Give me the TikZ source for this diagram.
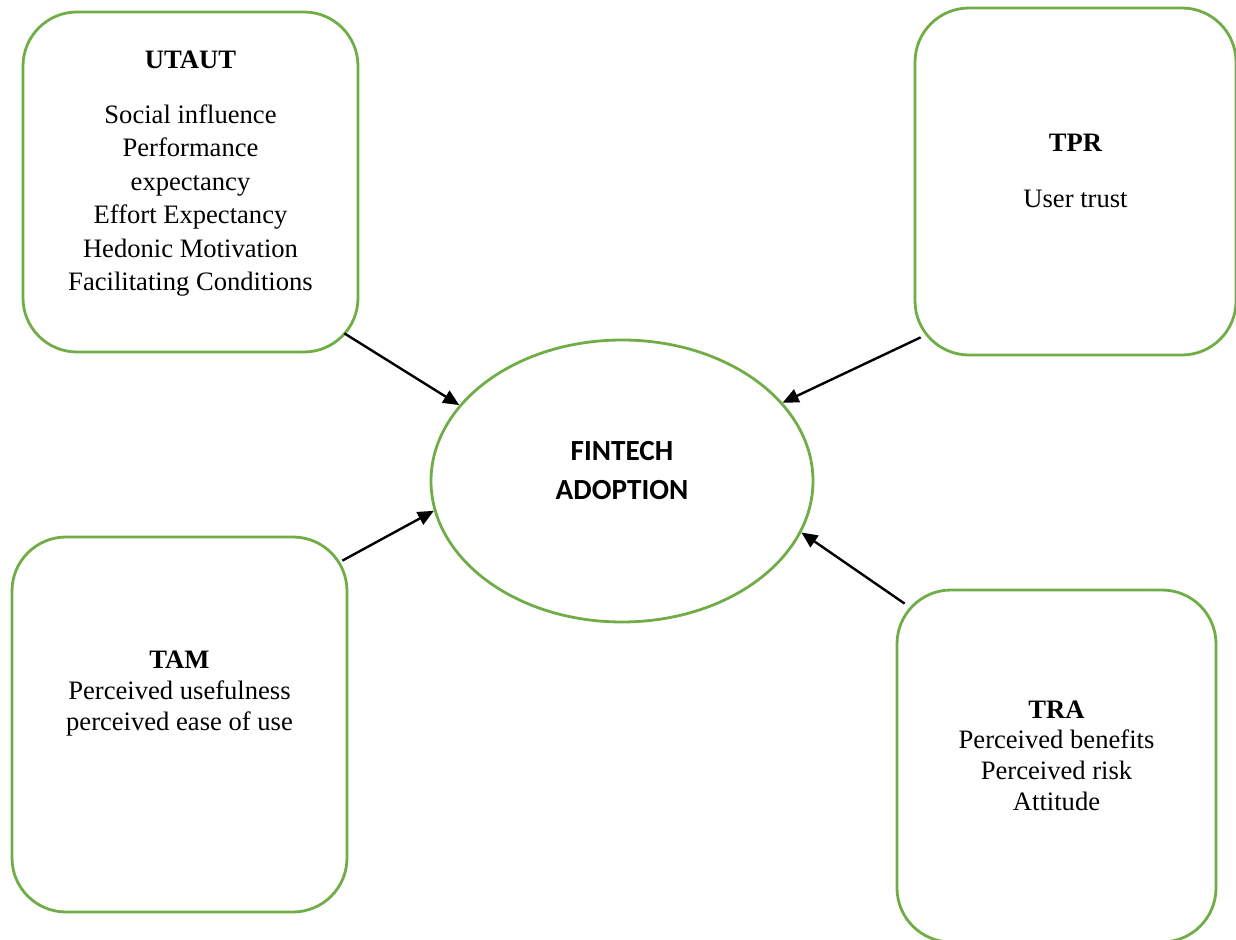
\documentclass[tikz,border=0pt]{standalone}
\usepackage{fontspec}
\setmainfont{Liberation Serif}
\newfontfamily\calfont{Carlito}
\usetikzlibrary{positioning,arrows.meta,shapes.geometric}

\definecolor{boxgreen}{RGB}{112,173,71}

\tikzset{
  theorybox/.style={draw=boxgreen, line width=1.4pt, rounded corners=27pt, inner sep=0pt},
  theorytext/.style={align=center, font=\fontsize{13.3}{16.2}\selectfont},
  link/.style={-{Triangle[length=8pt,width=7pt]}, line width=1.2pt}
}

\begin{document}
\begin{tikzpicture}[x=0.5pt, y=-0.5pt]
    \useasboundingbox (0,0) rectangle (1236,940);

    % the four theory boxes
    \node[theorybox, minimum width=167.5pt, minimum height=170pt]   (utaut) at (190.5,182) {};
    \node[theorybox, minimum width=160.5pt, minimum height=173.5pt] (tpr)   at (1075.5,181.5) {};
    \node[theorybox, minimum width=167.5pt, minimum height=187.5pt] (tam)   at (179.5,724.5) {};
    \node[theorybox, minimum width=159.5pt, minimum height=176pt]   (tra)   at (1056.5,766) {};

    \node[theorytext, font=\fontsize{13.3}{16.75}\selectfont] (utauttxt) at ([yshift=4.1pt]utaut.center)
      {\textbf{UTAUT}\\[10.5pt] Social influence\\ Performance\\ expectancy\\ Effort Expectancy\\ Hedonic Motivation\\ Facilitating Conditions};
    \node[theorytext] (tprtxt) at ([yshift=5.25pt]tpr.center)
      {\textbf{TPR}\\[11.5pt] User trust};
    \node[theorytext, font=\fontsize{13.3}{15.5}\selectfont] (tamtxt) at ([yshift=15.25pt]tam.center)
      {\textbf{TAM}\\ Perceived usefulness\\ perceived ease of use};
    \node[theorytext, font=\fontsize{13.3}{15.3}\selectfont] (tratxt) at ([yshift=5.25pt]tra.center)
      {\textbf{TRA}\\ Perceived benefits\\ Perceived risk\\ Attitude};

    % central construct
    \node[ellipse, draw=boxgreen, line width=1.4pt, minimum width=191pt, minimum height=141pt, inner sep=0pt] (fin) at (622,481) {};
    \node[align=center, font=\calfont\bfseries\fontsize{14.6}{19.5}\selectfont] (fintxt) at ([yshift=5pt]fin.center) {FINTECH\\ ADOPTION};

    % arrows into the ellipse
    \draw[link] ([shift={(-15,-20)}]utaut.south east) -- (fin.155);
    \draw[link] ([shift={(7,-19)}]tpr.south west) -- (fin.26);
    \draw[link] ([shift={(-6,25)}]tam.north east) -- (fin.189);
    \draw[link] ([shift={(9,15)}]tra.north west) -- (fin.-16);
\end{tikzpicture}
\end{document}
